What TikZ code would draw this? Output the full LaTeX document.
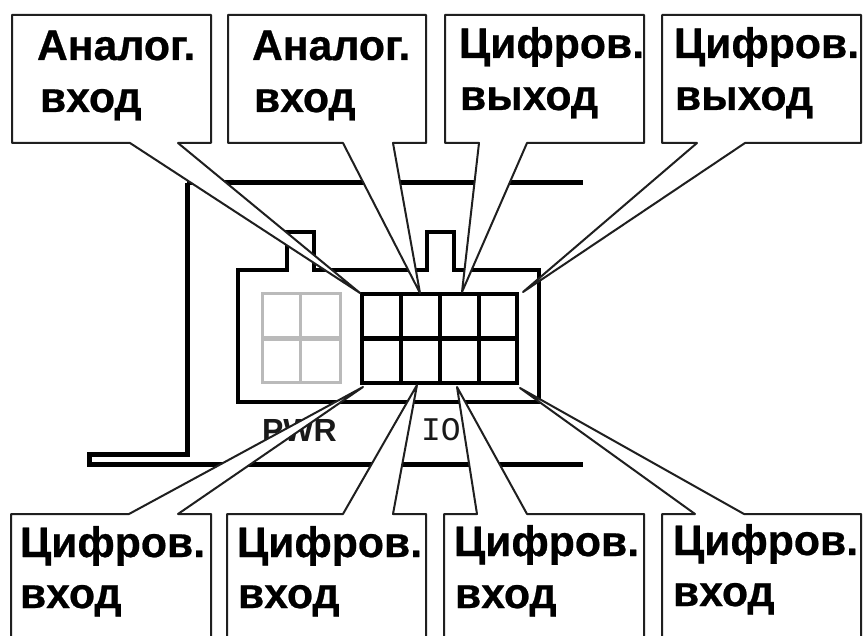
\documentclass[tikz,border=0pt]{standalone}
\usepackage{fontspec}
\setmainfont[BoldFeatures={FakeBold=0.6}]{Liberation Sans}
\newfontfamily\labmono{Liberation Mono}
\newfontfamily\plugfont{Liberation Sans Bold}
\tikzset{
  callout/.style={draw=black!88,fill=white,line width=2pt,line join=round},
  lbl/.style={anchor=base west,inner sep=0pt,outer sep=0pt,font=\fontsize{42.7}{43}\selectfont\bfseries,text=black},
  blk/.style={draw=black,line width=3.4pt,line join=miter},
  graygrid/.style={draw=black!27,line width=3pt},
  heavy/.style={draw=black,line width=5pt,line join=miter},
  plug/.style={anchor=base west,inner sep=0pt,outer sep=0pt,text=black!90}
}
\begin{document}
\begin{tikzpicture}[x=1pt,y=-1pt]
\useasboundingbox (0,0) rectangle (863,636);
\clip (0,0) rectangle (863,636);
\fill[white] (0,0) rectangle (863,636);
% frame lines
\draw[heavy] (187,183) -- (583,183);
\draw[heavy] (187,183) -- (187,455) -- (89,455) -- (89,465) -- (583,465);
% connector body
\draw[blk] (238,270) -- (287,270) -- (287,232) -- (314,232) -- (314,270) -- (427,270) -- (427,232) -- (454,232) -- (454,270) -- (539,270) -- (539,402) -- (238,402) -- cycle;
% power block
\draw[graygrid] (262,294) rectangle (340,383);
\draw[graygrid] (300,294) -- (300,383);
\draw[graygrid,line width=5pt] (262,339) -- (340,339);
% IO block
\draw[blk] (362,294) rectangle (517,383);
\draw[blk] (401,294) -- (401,383);
\draw[blk] (440,294) -- (440,383);
\draw[blk] (479,294) -- (479,383);
\draw[heavy] (362,339) -- (517,339);
% plug labels
\node[plug,font=\plugfont\fontsize{32}{32}\selectfont] (pwr) at (262,442) {PWR};
\node[plug,font=\labmono\fontsize{33}{33}\selectfont] (io) at (421,441) {IO};
% callouts
\draw[callout] (12,15) -- (211,15) -- (211,143) -- (178,143) -- (360,293) -- (130,143) -- (12,143) -- cycle;
\draw[callout] (228,15) -- (426,15) -- (426,143) -- (393,143) -- (420,293) -- (343,143) -- (228,143) -- cycle;
\draw[callout] (445,15) -- (644,15) -- (644,143) -- (527,143) -- (462,292) -- (479,143) -- (445,143) -- cycle;
\draw[callout] (662,15) -- (861,15) -- (861,143) -- (745,143) -- (523,292) -- (697,143) -- (662,143) -- cycle;
\draw[callout] (11,650) -- (11,514) -- (129,514) -- (363,387) -- (178,514) -- (211,514) -- (211,650);
\draw[callout] (227,650) -- (227,514) -- (343,514) -- (417,385) -- (393,514) -- (426,514) -- (426,650);
\draw[callout] (444,650) -- (444,514) -- (477,514) -- (457,387) -- (527,514) -- (644,514) -- (644,650);
\draw[callout] (662,650) -- (662,514) -- (695,514) -- (520,388) -- (744,514) -- (861,514) -- (861,650);
% callout texts
\node[lbl] (a1) at (37,60) {Аналог.};
\node[lbl] (a2) at (40,112) {вход};
\node[lbl] (b1) at (252,60) {Аналог.};
\node[lbl] (b2) at (254,112) {вход};
\node[lbl] (c1) at (459,58) {Цифров.};
\node[lbl] (c2) at (460,110) {выход};
\node[lbl] (d1) at (674,58) {Цифров.};
\node[lbl] (d2) at (675,110) {выход};
\node[lbl] (e1) at (20,557) {Цифров.};
\node[lbl] (e2) at (20,608) {вход};
\node[lbl] (f1) at (237,557) {Цифров.};
\node[lbl] (f2) at (238,608) {вход};
\node[lbl] (g1) at (454,556) {Цифров.};
\node[lbl] (g2) at (455,608) {вход};
\node[lbl] (h1) at (673,555) {Цифров.};
\node[lbl] (h2) at (673,606) {вход};
\end{tikzpicture}
\end{document}
